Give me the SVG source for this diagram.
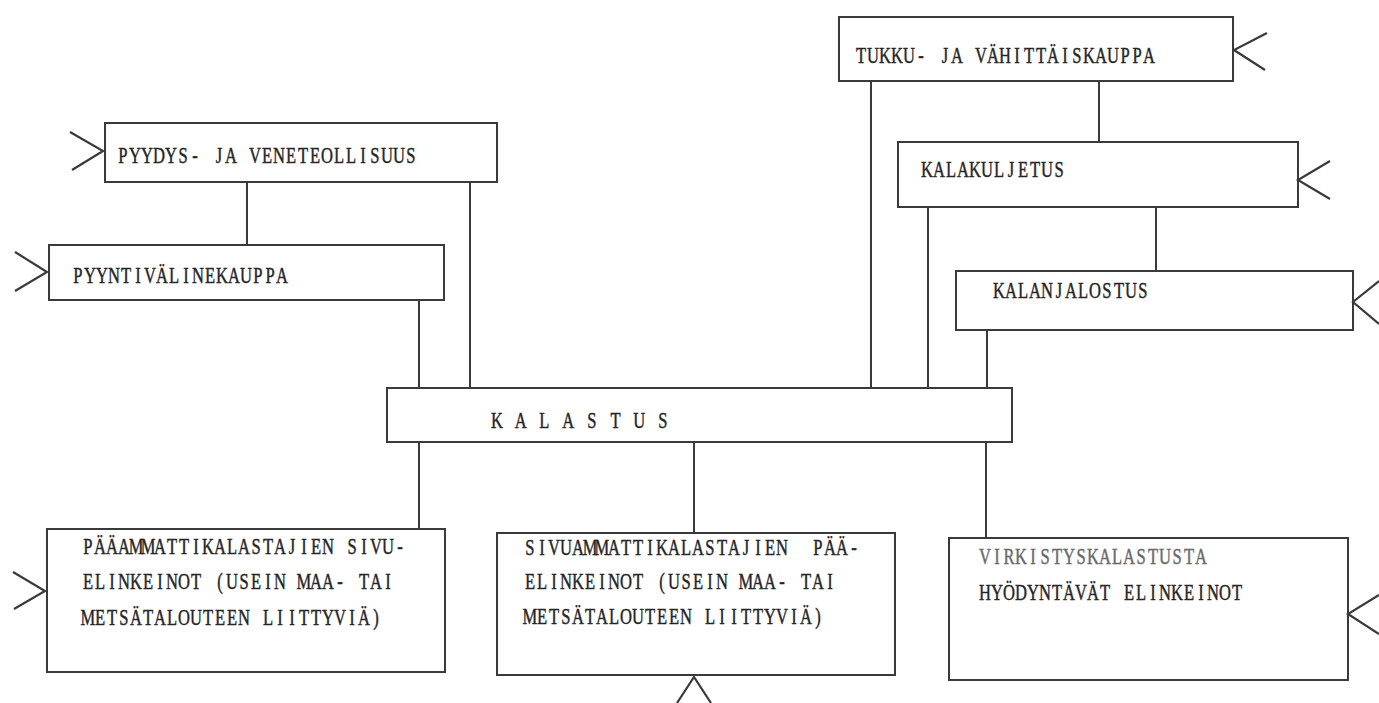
<svg xmlns="http://www.w3.org/2000/svg" width="1379" height="703" viewBox="0 0 1379 703">
<style>
.box{fill:none;stroke:#3a3a3a;stroke-width:2}
.con{fill:none;stroke:#3a3a3a;stroke-width:2}
.chev{fill:none;stroke:#3a3a3a;stroke-width:2.2;stroke-linejoin:miter}
text{font-family:"Liberation Serif","DejaVu Serif",serif;font-size:23px;text-anchor:middle;fill:#262626;stroke:#262626;stroke-width:0.45}
.light{fill:#6a6a6a;stroke:#6a6a6a}
</style>
<rect width="1379" height="703" fill="#fff"/>
<g id="connectors">
<line class="con" x1="247" y1="182" x2="247" y2="245"/>
<line class="con" x1="470" y1="182" x2="470" y2="388"/>
<line class="con" x1="419" y1="300" x2="419" y2="388"/>
<line class="con" x1="871" y1="81" x2="871" y2="388"/>
<line class="con" x1="1099" y1="81" x2="1099" y2="142"/>
<line class="con" x1="928" y1="207" x2="928" y2="388"/>
<line class="con" x1="1156" y1="207" x2="1156" y2="271"/>
<line class="con" x1="987" y1="330" x2="987" y2="388"/>
<line class="con" x1="419" y1="442" x2="419" y2="529"/>
<line class="con" x1="694" y1="442" x2="694" y2="533"/>
<line class="con" x1="986" y1="442" x2="986" y2="538"/>
</g>
<g id="n-pyydys">
<rect class="box" x="105" y="123" width="392" height="59"/>
<polyline class="chev" points="70,132 103,151 72,170"/>
<text transform="translate(117 163) scale(0.72 1)" x="8.3 25 41.7 58.3 75 91.7 108.3 125 141.7 158.3 175 191.7 208.3 225 241.7 258.3 275 291.7 308.3 325 341.7 358.3 375 391.7 408.3 425 441.7 458.3">PYYDYS- JA VENETEOLLISUUS</text>
</g>
<g id="n-pyynti">
<rect class="box" x="49" y="245" width="395" height="55"/>
<polyline class="chev" points="15,252 47,272 15,291"/>
<text transform="translate(72 283) scale(0.72 1)" x="8.3 25 41.7 58.3 75 91.7 108.3 125 141.7 158.3 175 191.7 208.3 225 241.7 258.3 275 291.7 308.3 325 341.7 358.3 375 391.7 408.3 425 441.7 458.3">PYYNTIVÄLINEKAUPPA</text>
</g>
<g id="n-tukku">
<rect class="box" x="839" y="17" width="394" height="64"/>
<polyline class="chev" points="1267,33 1234,50 1265,70"/>
<text transform="translate(855 63) scale(0.72 1)" x="8.3 25 41.7 58.3 75 91.7 108.3 125 141.7 158.3 175 191.7 208.3 225 241.7 258.3 275 291.7 308.3 325 341.7 358.3 375 391.7 408.3 425 441.7 458.3">TUKKU- JA VÄHITTÄISKAUPPA</text>
</g>
<g id="n-kuljetus">
<rect class="box" x="898" y="142" width="400" height="65"/>
<polyline class="chev" points="1330,161 1298,180 1330,199"/>
<text transform="translate(921 177) scale(0.72 1)" x="8.3 25 41.7 58.3 75 91.7 108.3 125 141.7 158.3 175 191.7 208.3 225 241.7 258.3 275 291.7 308.3 325 341.7 358.3 375 391.7 408.3 425 441.7 458.3">KALAKULJETUS</text>
</g>
<g id="n-jalostus">
<rect class="box" x="956" y="271" width="397" height="59"/>
<polyline class="chev" points="1379,281 1353,302 1379,324"/>
<text transform="translate(993 298) scale(0.72 1)" x="8.3 25 41.7 58.3 75 91.7 108.3 125 141.7 158.3 175 191.7 208.3 225 241.7 258.3 275 291.7 308.3 325 341.7 358.3 375 391.7 408.3 425 441.7 458.3">KALANJALOSTUS</text>
</g>
<g id="n-kalastus">
<rect class="box" x="387" y="388" width="625" height="54"/>
<text transform="translate(497 428) scale(0.72 1)" x="0 32.9 65.8 98.8 131.7 164.6 197.5 230.4">KALASTUS</text>
</g>
<g id="n-paa">
<rect class="box" x="47" y="529" width="398" height="143"/>
<polyline class="chev" points="13,572 45,591 14,609"/>
<text transform="translate(82 554) scale(0.72 1)" x="8.3 25 41.7 58.3 75 91.7 108.3 125 141.7 158.3 175 191.7 208.3 225 241.7 258.3 275 291.7 308.3 325 341.7 358.3 375 391.7 408.3 425 441.7 458.3">PÄÄAMMATTIKALASTAJIEN SIVU-</text>
<text transform="translate(82 589) scale(0.72 1)" x="8.3 25 41.7 58.3 75 91.7 108.3 125 141.7 158.3 175 191.7 208.3 225 241.7 258.3 275 291.7 308.3 325 341.7 358.3 375 391.7 408.3 425 441.7 458.3">ELINKEINOT (USEIN MAA- TAI</text>
<text transform="translate(82 625) scale(0.72 1)" x="8.3 25 41.7 58.3 75 91.7 108.3 125 141.7 158.3 175 191.7 208.3 225 241.7 258.3 275 291.7 308.3 325 341.7 358.3 375 391.7 408.3 425 441.7 458.3">METSÄTALOUTEEN LIITTYVIÄ)</text>
</g>
<g id="n-sivu">
<rect class="box" x="497" y="533" width="398" height="142"/>
<polyline class="chev" points="677,703 694,677 711,703"/>
<text xml:space="preserve" transform="translate(524 555) scale(0.72 1)" x="8.3 25 41.7 58.3 75 91.7 108.3 125 141.7 158.3 175 191.7 208.3 225 241.7 258.3 275 291.7 308.3 325 341.7 358.3 375 391.7 408.3 425 441.7 458.3">SIVUAMMATTIKALASTAJIEN  PÄÄ-</text>
<text transform="translate(524 589) scale(0.72 1)" x="8.3 25 41.7 58.3 75 91.7 108.3 125 141.7 158.3 175 191.7 208.3 225 241.7 258.3 275 291.7 308.3 325 341.7 358.3 375 391.7 408.3 425 441.7 458.3">ELINKEINOT (USEIN MAA- TAI</text>
<text transform="translate(524 624) scale(0.72 1)" x="8.3 25 41.7 58.3 75 91.7 108.3 125 141.7 158.3 175 191.7 208.3 225 241.7 258.3 275 291.7 308.3 325 341.7 358.3 375 391.7 408.3 425 441.7 458.3">METSÄTALOUTEEN LIITTYVIÄ)</text>
</g>
<g id="n-virk">
<rect class="box" x="949" y="538" width="399" height="142"/>
<polyline class="chev" points="1379,595 1348,614 1379,634"/>
<text class="light" transform="translate(979 564) scale(0.72 1)" x="8.3 25 41.7 58.3 75 91.7 108.3 125 141.7 158.3 175 191.7 208.3 225 241.7 258.3 275 291.7 308.3 325 341.7 358.3 375 391.7 408.3 425 441.7 458.3">VIRKISTYSKALASTUSTA</text>
<text transform="translate(979 600) scale(0.72 1)" x="8.3 25 41.7 58.3 75 91.7 108.3 125 141.7 158.3 175 191.7 208.3 225 241.7 258.3 275 291.7 308.3 325 341.7 358.3 375 391.7 408.3 425 441.7 458.3">HYÖDYNTÄVÄT ELINKEINOT</text>
</g>
</svg>
